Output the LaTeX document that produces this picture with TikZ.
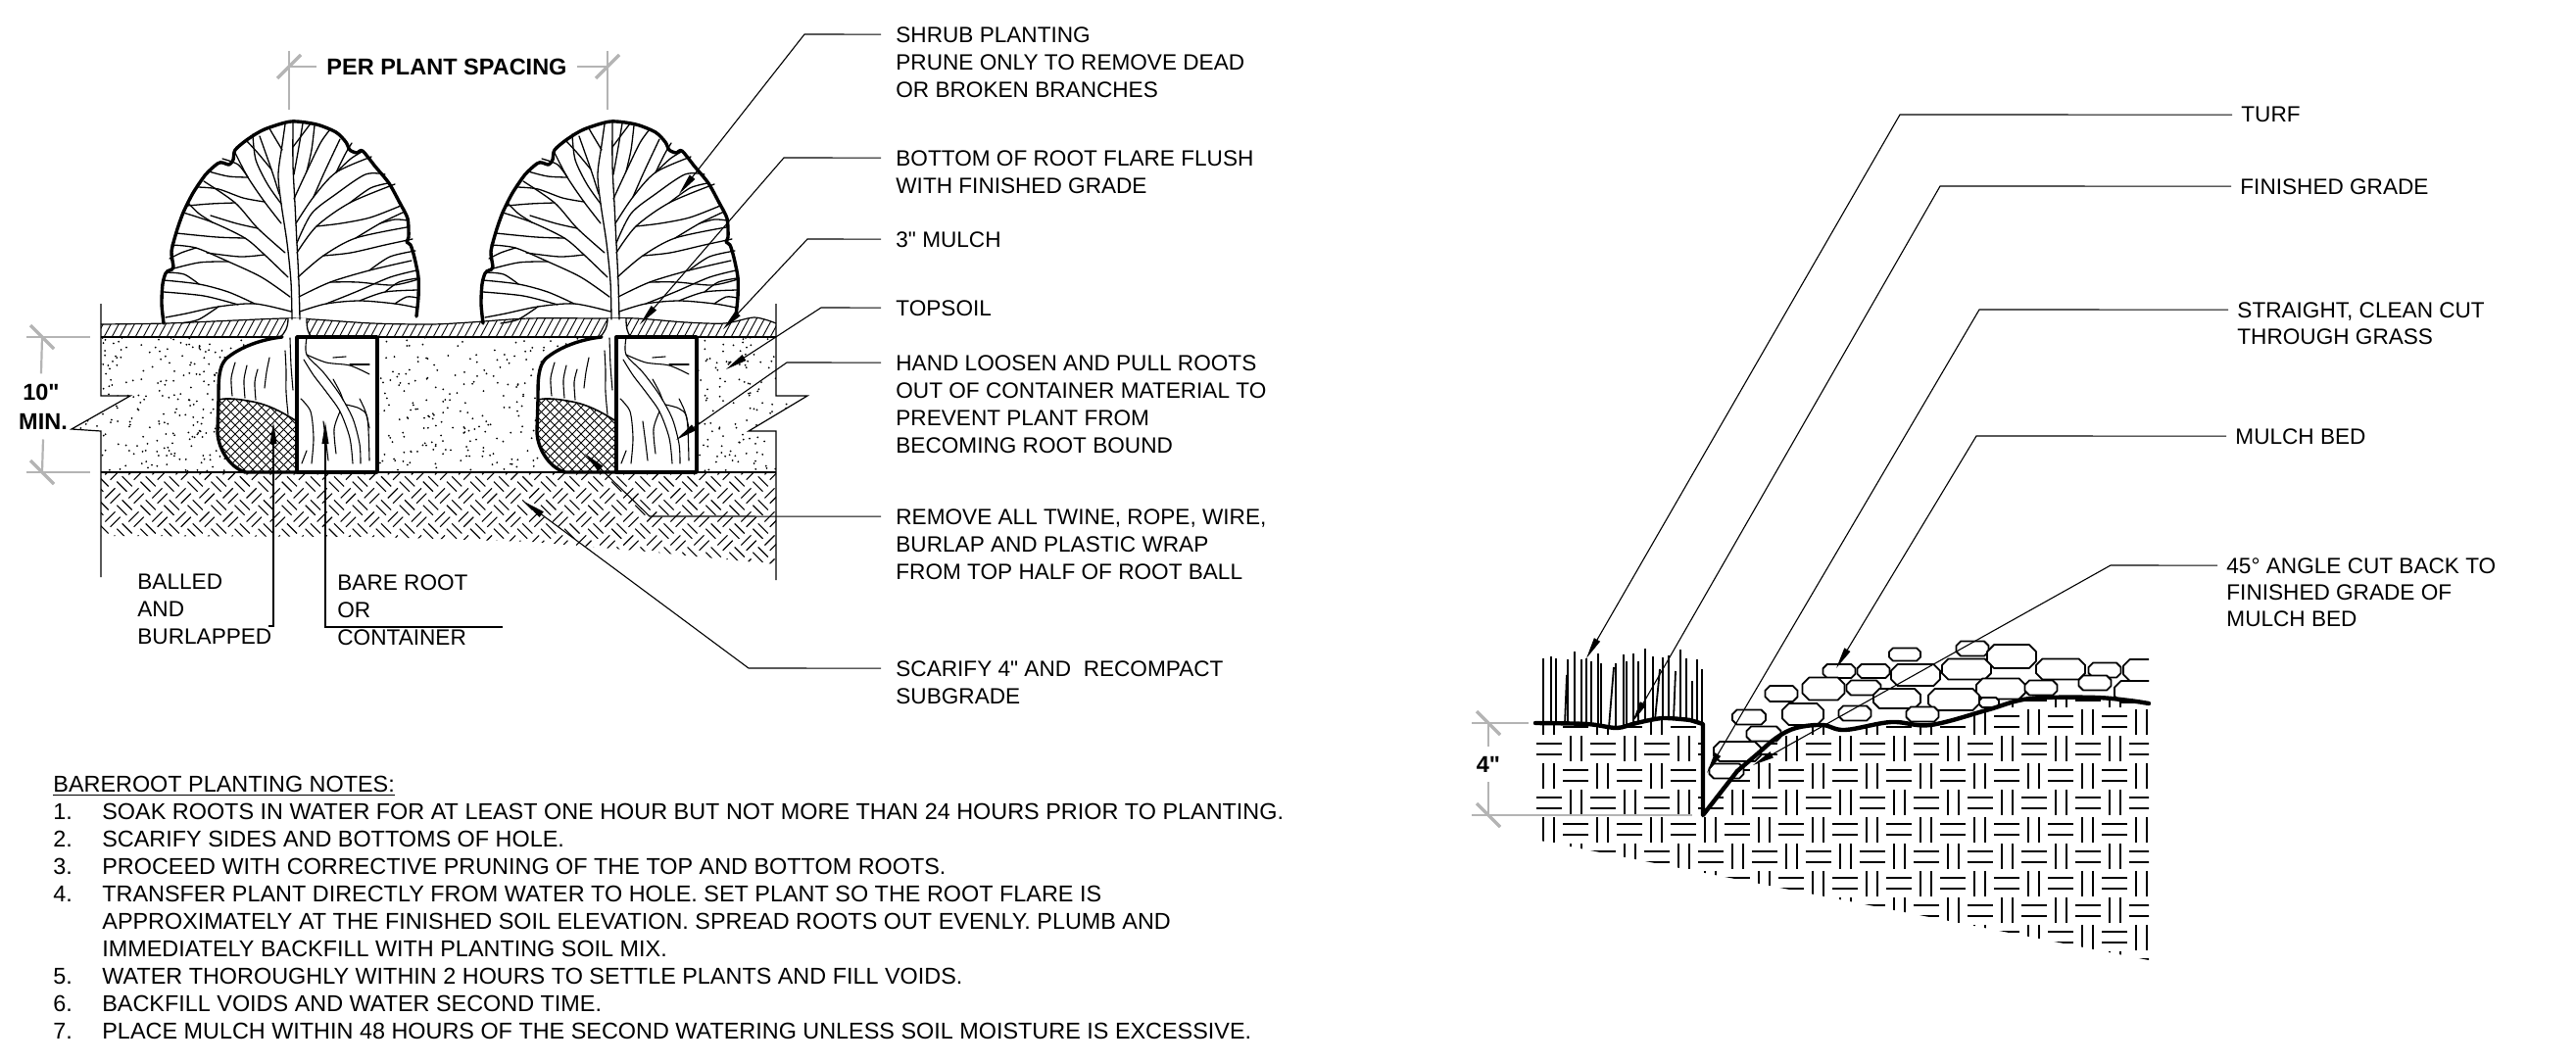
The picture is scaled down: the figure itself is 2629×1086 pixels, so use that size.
\documentclass[tikz,border=0pt]{standalone}
\usepackage{fontspec}
\setmainfont{Liberation Sans}
\usetikzlibrary{arrows.meta}
\definecolor{dimgray}{RGB}{180,180,180}
\newcommand\inch{\textquotedbl}
\tikzset{
  pics/shrub/.style={code={
    % mask the mulch hatch under the root flare
    \fill[white] (-9,-3) .. controls (-9,6) and (-12,12) .. (-18,17) -- (16,17) .. controls (11,12) and (10,6) .. (10,-3) -- cycle;
    % balled and burlapped half of the root ball
    \fill[white] (0,16) -- (-15,16) .. controls (-35,18) and (-58,26) .. (-72,38) .. controls (-80,46) and (-80,60) .. (-80,80) -- (-81,112) .. controls (-81,128) and (-70,148) .. (-53,154) -- (0,154) -- cycle;
    \begin{scope}
      \clip (0,16) -- (-15,16) .. controls (-35,18) and (-58,26) .. (-72,38) .. controls (-80,46) and (-80,60) .. (-80,80) -- (-81,112) .. controls (-81,128) and (-70,148) .. (-53,154) -- (0,154) -- cycle;
      \clip (0,102) .. controls (-10,96) and (-25,86) .. (-45,82) .. controls (-60,79) and (-72,78) .. (-84,80) -- (-84,160) -- (0,160) -- cycle;
      \foreach \k in {-180,-171,...,20}{
        \draw[hatchln] (\k,160) -- ++(90,-90);
        \draw[hatchln] (\k,70) -- ++(90,90);
      }
    \end{scope}
    \draw[line width=0.8pt] (-80,80) .. controls (-72,78) and (-60,79) .. (-45,82) .. controls (-25,86) and (-10,96) .. (0,102);
    \draw[heavy] (-15,16) .. controls (-35,18) and (-58,26) .. (-72,38) .. controls (-80,46) and (-80,60) .. (-80,80) -- (-81,112) .. controls (-81,128) and (-70,148) .. (-53,154) -- (0,154);
    % roots inside the upper half of the ball
    \draw[root] plot[smooth] coordinates {(-63,42) (-67,58) (-66,76)};
    \draw[root] plot[smooth] coordinates {(-51,45) (-54,60) (-53,78)};
    \draw[root] plot[smooth] coordinates {(-40,49) (-43,62) (-42,80)};
    \draw[root] plot[smooth] coordinates {(-28,37) (-31,52) (-33,68)};
    \draw[root] plot[smooth] coordinates {(-12,30) (-11,50) (-11,72) (-9,95)};
    \draw[root] plot[smooth] coordinates {(-7,17) (-6,45) (-4,70)};
    % bare root / container half
    \draw[heavy, fill=white] (0,16) rectangle (82,154);
    \draw[root] plot[smooth] coordinates {(10,17) (10,34) (27,52) (44,75) (57,99) (64,125) (65,145)};
    \draw[root] plot[smooth] coordinates {(10,34) (30,42) (54,45) (74,54)};
    \draw[root] plot[smooth] coordinates {(37,37) (50,36)};
    \draw[root] plot[smooth] coordinates {(54,44) (74,44)};
    \draw[root] plot[smooth] coordinates {(7,39) (17,55) (30,72) (44,92) (54,119) (57,145)};
    \draw[root] plot[smooth] coordinates {(4,79) (14,92) (17,119) (15,145)};
    \draw[root] plot[smooth] coordinates {(27,102) (30,125) (32,142)};
    \draw[root] plot[smooth] coordinates {(37,59) (44,72) (47,80)};
    \draw[root] plot[smooth] coordinates {(64,79) (70,92) (74,109)};
    \draw[root] plot[smooth] coordinates {(50,85) (64,89) (72,99) (74,142)};
    \draw[root] plot[smooth] coordinates {(10,132) (5,145)};
    \draw[root] plot[smooth] coordinates {(44,92) (38,110) (40,135)};
    % root flare
    \draw[branch] (-9,-3) .. controls (-9,6) and (-12,12) .. (-18,17);
    \draw[branch] (10,-3) .. controls (10,6) and (11,12) .. (15,16);
    % trunk and main limbs
    \draw[branch] plot[smooth] coordinates {(-5,-2) (-6,-40) (-10,-80) (-16,-120) (-19,-150) (-15,-180) (-12,-201)};
    \draw[branch] plot[smooth] coordinates {(3,-2) (2,-40) (0,-80) (-2,-120) (-4,-160) (-4,-203)};
    \draw[branch] plot[smooth] coordinates {(-6,-10) (-43,-18) (-80,-15) (-113,-8) (-134,-4)};
    \draw[branch] plot[smooth] coordinates {(-7,-25) (-36,-45) (-70,-61) (-103,-75) (-128,-78)};
    \draw[branch] plot[smooth] coordinates {(-9,-45) (-33,-68) (-53,-85) (-86,-101) (-116,-111)};
    \draw[branch] plot[smooth] coordinates {(-12,-70) (-40,-95) (-63,-121) (-95,-143)};
    \draw[branch] plot[smooth] coordinates {(-16,-100) (-33,-122) (-50,-147) (-63,-172)};
    \draw[branch] plot[smooth] coordinates {(-18,-130) (-26,-155) (-38,-189)};
    \draw[branch] plot[smooth] coordinates {(3,-10) (30,-18) (64,-21) (100,-18) (122,-14)};
    \draw[branch] plot[smooth] coordinates {(2,-25) (34,-40) (74,-52) (117,-62)};
    \draw[branch] plot[smooth] coordinates {(1,-45) (27,-67) (60,-85) (112,-96)};
    \draw[branch] plot[smooth] coordinates {(0,-70) (20,-97) (54,-121) (100,-140)};
    \draw[branch] plot[smooth] coordinates {(-1,-100) (17,-127) (40,-152) (76,-168)};
    \draw[branch] plot[smooth] coordinates {(-3,-125) (10,-153) (24,-182) (34,-196)};
    \draw[branch] plot[smooth] coordinates {(-3,-150) (2,-178) (6,-202)};
    % secondary limbs and twigs
    \draw[branch] plot[smooth] coordinates {(-60,-17) (-95,-26) (-136,-30)};
    \draw[branch] plot[smooth] coordinates {(-70,-61) (-100,-60) (-133,-52)};
    \draw[branch] plot[smooth] coordinates {(-53,-85) (-82,-86) (-123,-90)};
    \draw[branch] plot[smooth] coordinates {(-40,-95) (-62,-100) (-88,-108)};
    \draw[branch] plot[smooth] coordinates {(-63,-121) (-88,-120) (-112,-118)};
    \draw[branch] plot[smooth] coordinates {(-50,-147) (-70,-148) (-90,-153)};
    \draw[branch] plot[smooth] coordinates {(-33,-68) (-58,-66) (-92,-70)};
    \draw[branch] plot[smooth] coordinates {(-26,-155) (-40,-172) (-52,-185)};
    \draw[branch] plot[smooth] coordinates {(-15,-175) (-24,-190) (-28,-197)};
    \draw[branch] plot[smooth] coordinates {(-43,-18) (-70,-30) (-100,-38) (-136,-42)};
    \draw[branch] plot[smooth] coordinates {(-103,-75) (-118,-70) (-130,-64)};
    \draw[branch] plot[smooth] coordinates {(-33,-122) (-55,-126) (-80,-135) (-101,-137)};
    \draw[branch] plot[smooth] coordinates {(-50,-147) (-60,-160) (-76,-166)};
    \draw[branch] plot[smooth] coordinates {(-16,-120) (-30,-140) (-42,-165) (-45,-191)};
    \draw[branch] plot[smooth] coordinates {(-100,-38) (-115,-48) (-133,-50)};
    \draw[branch] plot[smooth] coordinates {(-86,-101) (-100,-110) (-112,-122)};
    \draw[branch] plot[smooth] coordinates {(-80,-15) (-100,-2) (-118,2)};
    \draw[branch] plot[smooth] coordinates {(64,-21) (90,-30) (124,-32)};
    \draw[branch] plot[smooth] coordinates {(74,-52) (95,-66) (121,-72)};
    \draw[branch] plot[smooth] coordinates {(60,-85) (85,-100) (110,-112)};
    \draw[branch] plot[smooth] coordinates {(54,-121) (75,-136) (93,-141)};
    \draw[branch] plot[smooth] coordinates {(40,-152) (55,-166) (68,-174)};
    \draw[branch] plot[smooth] coordinates {(20,-97) (45,-100) (75,-106) (106,-118)};
    \draw[branch] plot[smooth] coordinates {(34,-40) (62,-40) (98,-37) (124,-43)};
    \draw[branch] plot[smooth] coordinates {(17,-127) (28,-152) (44,-186)};
    \draw[branch] plot[smooth] coordinates {(-4,-178) (8,-194) (14,-202)};
    \draw[branch] plot[smooth] coordinates {(100,-18) (112,-25) (123,-24)};
    \draw[branch] plot[smooth] coordinates {(30,-18) (60,-30) (95,-45) (122,-52)};
    \draw[branch] plot[smooth] coordinates {(27,-67) (55,-70) (90,-78) (118,-84)};
    \draw[branch] plot[smooth] coordinates {(0,-80) (15,-110) (40,-130) (70,-150) (90,-150)};
    \draw[branch] plot[smooth] coordinates {(40,-152) (50,-172) (56,-182)};
    \draw[branch] plot[smooth] coordinates {(10,-153) (15,-175) (18,-200)};
    \draw[branch] plot[smooth] coordinates {(90,-30) (104,-40) (123,-44)};
    \draw[branch] plot[smooth] coordinates {(85,-100) (100,-104) (113,-103)};
    % canopy outline
    \draw[heavy] plot[smooth, tension=0.45] coordinates {(-136,2) (-138,-18) (-137,-38) (-134,-49) (-130,-52) (-126,-55) (-128,-71) (-123,-91) (-116,-111) (-106,-131) (-93,-150) (-81,-161) (-76,-162) (-69,-160) (-65,-165) (-63,-175) (-50,-186) (-33,-196) (-6,-204) (20,-201) (40,-193) (50,-183) (54,-175) (61,-172) (67,-174) (80,-158) (94,-141) (105,-121) (113,-105) (114,-86) (112,-81) (116,-78) (120,-65) (124,-45) (124,-25) (122,-5)};
  }},
}
\begin{document}
\begin{tikzpicture}[x=0.5pt,y=-0.5pt,
  lbl/.style={font=\fontsize{11.3}{14}\selectfont, inner sep=0pt, align=left, anchor=north west},
  rlbl/.style={font=\fontsize{11.3}{13.6}\selectfont, inner sep=0pt, align=left, anchor=north west},
  boldtxt/.style={font=\fontsize{11.75}{14}\selectfont\bfseries, inner sep=0pt},
  heavy/.style={line width=1.7pt, line join=round, line cap=round},
  fine/.style={line width=0.6pt},
  hatchln/.style={line width=0.45pt},
  subln/.style={line width=0.55pt},
  branch/.style={line width=0.65pt, line cap=round},
  root/.style={line width=0.55pt, line cap=round},
  leader/.style={line width=0.55pt, -{Triangle[length=11pt,width=3.4pt]}},
  dimln/.style={draw=dimgray, line width=1.1pt},
  dimtick/.style={draw=dimgray, line width=1.7pt},
  weave/.style={line width=1.2pt},
  stoneln/.style={line width=0.9pt, fill=white, line join=round},
  grade/.style={line width=2.2pt, line join=round, line cap=round},
  blade/.style={line width=0.9pt},
]
\useasboundingbox (0,0) rectangle (2629,1086);

% ---------------- shrub planting section ----------------
% topsoil stipple
\begin{scope}
  \clip (103,344) -- (792,344) -- (792,404) -- (824,404) -- (764,440) -- (792,440) -- (792,482)
        -- (103,482) -- (103,440) -- (73,438) -- (133,404) -- (103,404) -- cycle;
  \pgfmathsetseed{4242}
  \foreach \i in {1,...,1000}{
    \pgfmathsetmacro\px{70+760*rnd}
    \pgfmathsetmacro\py{344+138*rnd}
    \fill (\px,\py) circle[radius=0.5pt];
  }
\end{scope}
% scarified subgrade: diagonal basket weave
\begin{scope}
  \clip (103,482) -- (792,482) -- (792,576) -- (650,562) -- (542,553) -- (380,548) -- (103,547) -- cycle;
  \begin{scope}[shift={(103,482)}, x={(6.01pt,6.01pt)}, y={(6.01pt,-6.01pt)}]
    \foreach \i in {-5,...,31}{
      \pgfmathtruncatemacro\ja{\i-2}
      \pgfmathtruncatemacro\jb{\i+10}
      \foreach \j in {\ja,...,\jb}{
        \pgfmathtruncatemacro\wpar{mod(\i+\j+200,2)}
        \ifnum\wpar=0
          \draw[subln] (\i+0.08,\j+0.28) -- (\i+0.92,\j+0.28) (\i+0.08,\j+0.72) -- (\i+0.92,\j+0.72);
        \else
          \draw[subln] (\i+0.28,\j+0.08) -- (\i+0.28,\j+0.92) (\i+0.72,\j+0.08) -- (\i+0.72,\j+0.92);
        \fi
      }
    }
  \end{scope}
\end{scope}
% mulch layer
\begin{scope}
  \clip plot[smooth] coordinates {(103,331) (170,330) (240,327) (290,325) (320,326) (380,330) (440,331) (480,329) (540,325) (616,325) (650,325) (700,329) (740,330) (770,324) (792,330)}
        -- (792,344) -- (103,344) -- cycle;
  \foreach \x in {80,88,...,800}
    \draw[hatchln] (\x,348) -- ++(14,-26);
\end{scope}
\draw[line width=0.6pt] plot[smooth] coordinates {(103,331) (170,330) (240,327) (290,325) (320,326) (380,330) (440,331) (480,329) (540,325) (616,325) (650,325) (700,329) (740,330) (770,324) (792,330)};
\draw[line width=0.8pt] (103,344) -- (792,344);
\draw[line width=0.8pt] (103,482) -- (792,482);
% section edges with break marks
\draw[fine] (103,310) -- (103,404) -- (133,404) -- (73,438) -- (103,440) -- (103,589);
\draw[fine] (792,310) -- (792,404) -- (824,404) -- (764,440) -- (792,440) -- (792,592);

% two shrubs
\pic at (303,328) {shrub};
\pic at (629,328) {shrub};

% plant spacing dimension
\node[boldtxt] (pps) at (456,68) {PER PLANT SPACING};
\coordinate (ppsL) at (295,68);
\coordinate (ppsR) at (620,68);
\draw[dimln] (295,52) -- (295,112);
\draw[dimln] (620,52) -- (620,112);
\draw[dimln] (ppsL) -- ([xshift=-5pt]pps.west);
\draw[dimln] ([xshift=5pt]pps.east) -- (ppsR);
\draw[dimtick] (283,80) -- (307,56);
\draw[dimtick] (608,80) -- (632,56);

% 10 inch minimum depth dimension
\node[boldtxt] (ten) at (42,400) {10\inch};
\node[boldtxt] (tenmin) at (44,430) {MIN.};
\coordinate (tenT) at (43,344);
\coordinate (tenB) at (43,482);
\draw[dimln] (27,344) -- (92,344);
\draw[dimln] (27,482) -- (92,482);
\draw[dimln] (tenT) -- ([yshift=5pt]ten.north);
\draw[dimln] ([yshift=-5pt]tenmin.south) -- (tenB);
\draw[dimtick] (31,332) -- (55,356);
\draw[dimtick] (31,470) -- (55,494);

% callouts, shrub section
\node[lbl] (shrubL) at (914,27) {SHRUB PLANTING\\PRUNE ONLY TO REMOVE DEAD\\OR BROKEN BRANCHES};
\node[lbl] (flareL) at (914,153) {BOTTOM OF ROOT FLARE FLUSH\\WITH FINISHED GRADE};
\node[lbl] (mulchL) at (914,236) {3\inch{} MULCH};
\node[lbl] (soilL) at (914,306) {TOPSOIL};
\node[lbl] (looseL) at (914,362) {HAND LOOSEN AND PULL ROOTS\\OUT OF CONTAINER MATERIAL TO\\PREVENT PLANT FROM\\BECOMING ROOT BOUND};
\node[lbl] (twineL) at (914,519) {REMOVE ALL TWINE, ROPE, WIRE,\\BURLAP AND PLASTIC WRAP\\FROM TOP HALF OF ROOT BALL};
\node[lbl] (scarL) at (914,674) {SCARIFY 4\inch{} AND\ \ RECOMPACT\\SUBGRADE};
\node[lbl] (bbL) at (140,586) {BALLED\\AND\\BURLAPPED};
\node[lbl] (brL) at (344,586) {BARE ROOT\\OR\\CONTAINER};

\coordinate (shrubB) at (821,35);   \coordinate (shrubT) at (693,198);
\coordinate (flareB) at (800,161);  \coordinate (flareT) at (653,331);
\coordinate (mulchB) at (824,244);  \coordinate (mulchT) at (738,336);
\coordinate (soilB) at (838,314);   \coordinate (soilT) at (741,377);
\coordinate (looseB) at (803,370);  \coordinate (looseT) at (690,449);
\coordinate (twineB) at (663,527);  \coordinate (twineT) at (597,463);
\coordinate (scarB) at (764,682);   \coordinate (scarT) at (535,512);
\foreach \n in {shrub,flare,mulch,soil,loose,twine,scar}
  \draw[leader] ([xshift=-7.5pt,yshift=-4.05pt]\n L.north west) -- (\n B) -- (\n T);

\coordinate (bbHook) at (274,639); \coordinate (bbFoot) at (279,639); \coordinate (bbTip) at (279,431);
\coordinate (brEnd) at (513,640);  \coordinate (brFoot) at (332,640); \coordinate (brTip) at (332,431);
\draw[leader] (bbHook) -- (bbFoot) -- (bbTip);
\draw[leader] (brEnd) -- (brFoot) -- (brTip);

% planting notes
\node[anchor=north west, inner sep=0pt, font=\fontsize{11.7}{14}\selectfont] (notes) at (54,788) {%
\begin{tabular}{@{}l@{}l@{}}
\multicolumn{2}{@{}l@{}}{\underline{BAREROOT PLANTING NOTES:}}\\
\makebox[25pt][l]{1.}&SOAK ROOTS IN WATER FOR AT LEAST ONE HOUR BUT NOT MORE THAN 24 HOURS PRIOR TO PLANTING.\\
2.&SCARIFY SIDES AND BOTTOMS OF HOLE.\\
3.&PROCEED WITH CORRECTIVE PRUNING OF THE TOP AND BOTTOM ROOTS.\\
4.&TRANSFER PLANT DIRECTLY FROM WATER TO HOLE. SET PLANT SO THE ROOT FLARE IS\\
&APPROXIMATELY AT THE FINISHED SOIL ELEVATION. SPREAD ROOTS OUT EVENLY. PLUMB AND\\
&IMMEDIATELY BACKFILL WITH PLANTING SOIL MIX.\\
5.&WATER THOROUGHLY WITHIN 2 HOURS TO SETTLE PLANTS AND FILL VOIDS.\\
6.&BACKFILL VOIDS AND WATER SECOND TIME.\\
7.&PLACE MULCH WITHIN 48 HOURS OF THE SECOND WATERING UNLESS SOIL MOISTURE IS EXCESSIVE.
\end{tabular}};

% ---------------- turf / mulch bed edge section ----------------
% soil below grade: basket weave
\begin{scope}
  \clip (1567,738) -- plot[smooth] coordinates {(1620,739) (1650,743) (1670,738) (1697,733) (1725,735)} -- (1738,738) -- (1738,832)
        -- plot[smooth, tension=0.6] coordinates {(1773,787) (1793,770) (1813,753) (1833,743) (1860,740) (1883,745) (1930,737) (1970,740) (2027,725) (2060,715) (2087,712) (2140,712) (2173,715) (2193,718)}
        -- (2193,980) -- (1567,857) -- cycle;
  \begin{scope}[shift={(1567,723)}, x=13.75pt, y=-13.75pt]
    \foreach \i in {0,...,22}{
      \foreach \j in {-1,...,10}{
        \pgfmathtruncatemacro\wpar{mod(\i+\j+200,2)}
        \ifnum\wpar=0
          \draw[weave] (\i+0.3,\j+0.03) -- (\i+0.3,\j+0.97) (\i+0.7,\j+0.03) -- (\i+0.7,\j+0.97);
        \else
          \draw[weave] (\i+0.03,\j+0.3) -- (\i+0.97,\j+0.3) (\i+0.03,\j+0.7) -- (\i+0.97,\j+0.7);
        \fi
      }
    }
  \end{scope}
\end{scope}
% turf blades
\foreach \bx/\bb/\tx/\tt in {1575/739/1575/672, 1583/739/1583/670, 1588/739/1588/672, 1597/739/1599/689, 1600/739/1600/673,
  1607/739/1607/665, 1614/739/1614/673, 1619/739/1619/672, 1624/740/1624/675, 1631/741/1631/667, 1634/741/1634/677,
  1642/742/1647/681, 1649/742/1649/677, 1657/741/1657/668, 1660/741/1660/675, 1667/739/1667/667, 1672/738/1672/675,
  1679/736/1679/662, 1687/735/1687/670, 1689/735/1694/683, 1697/733/1697/671, 1703/733/1703/669, 1708/734/1710/685,
  1715/734/1715/663, 1721/735/1721/672, 1727/736/1727/695, 1732/737/1732/673, 1737/737/1737/683}
  \draw[blade] (\bx,\bb) -- (\tx,\tt);
% mulch stones
\begin{scope}
  \clip (1700,600) rectangle (2193,800);
  \foreach \cx/\cy/\w/\h in {2013/662/33/15, 1944/668/32/13, 2053/670/50/24, 2103/683/50/21, 2148/684/33/15, 2187/684/40/22,
    1877/685/33/14, 1912/685/33/14, 2007/683/50/21, 1955/689/50/22, 2138/697/33/15, 1902/702/35/15, 1861/703/43/23,
    2042/703/50/21, 2083/702/33/15, 2182/706/48/22, 1818/708/33/16, 1936/713/48/20, 1994/714/52/22, 2030/717/20/10,
    1840/729/42/22, 1893/728/33/15, 1962/729/33/15, 1785/732/34/15, 1800/749/35/15, 1773/767/48/20, 1762/787/35/15}{
    \pgfmathsetmacro\c{0.3*min(\w,\h)}
    \draw[stoneln] (\cx-\w/2+\c,\cy-\h/2) -- (\cx+\w/2-\c,\cy-\h/2) -- (\cx+\w/2,\cy-\h/2+\c) -- (\cx+\w/2,\cy+\h/2-\c)
      -- (\cx+\w/2-\c,\cy+\h/2) -- (\cx-\w/2+\c,\cy+\h/2) -- (\cx-\w/2,\cy+\h/2-\c) -- (\cx-\w/2,\cy-\h/2+\c) -- cycle;
  }
\end{scope}
% finished grade, clean cut and 45 degree cut back
\draw[grade] plot[smooth] coordinates {(1567,738) (1620,739) (1650,743) (1670,738) (1697,733) (1725,735)} -- (1738,739) -- (1738,832)
      -- plot[smooth, tension=0.6] coordinates {(1773,787) (1793,770) (1813,753) (1833,743) (1860,740) (1883,745) (1930,737) (1970,740) (2027,725) (2060,715) (2087,712) (2140,712) (2173,715) (2193,718)};

% 4 inch dimension
\node[boldtxt] (four) at (1519,780) {4\inch};
\coordinate (fourT) at (1519,738);
\coordinate (fourB) at (1519,832);
\draw[dimln] (1502,738) -- (1560,738);
\draw[dimln] (1502,832) -- (1727,832);
\draw[dimln] (fourT) -- ([yshift=5pt]four.north);
\draw[dimln] ([yshift=-5pt]four.south) -- (fourB);
\draw[dimtick] (1507,726) -- (1531,750);
\draw[dimtick] (1507,820) -- (1531,844);

% callouts, edge section
\node[rlbl] (turfL) at (2287,109) {TURF};
\node[rlbl] (gradeL) at (2286,182) {FINISHED GRADE};
\node[rlbl] (cutL) at (2283,308) {STRAIGHT, CLEAN CUT\\THROUGH GRASS};
\node[rlbl] (bedL) at (2281,437) {MULCH BED};
\node[rlbl] (angleL) at (2272,569) {45° ANGLE CUT BACK TO\\FINISHED GRADE OF\\MULCH BED};
\coordinate (turfB) at (1939,117);   \coordinate (turfT) at (1619,672);
\coordinate (gradeB) at (1980,190);  \coordinate (gradeT) at (1666,737);
\coordinate (cutB) at (2020,316);    \coordinate (cutT) at (1742,789);
\coordinate (bedB) at (2017,445);    \coordinate (bedT) at (1874,682);
\coordinate (angleB) at (2154,577);  \coordinate (angleT) at (1789,781);
\foreach \n in {turf,grade,cut,bed,angle}
  \draw[leader] ([xshift=-4.5pt,yshift=-4.05pt]\n L.north west) -- (\n B) -- (\n T);
\end{tikzpicture}
\end{document}
